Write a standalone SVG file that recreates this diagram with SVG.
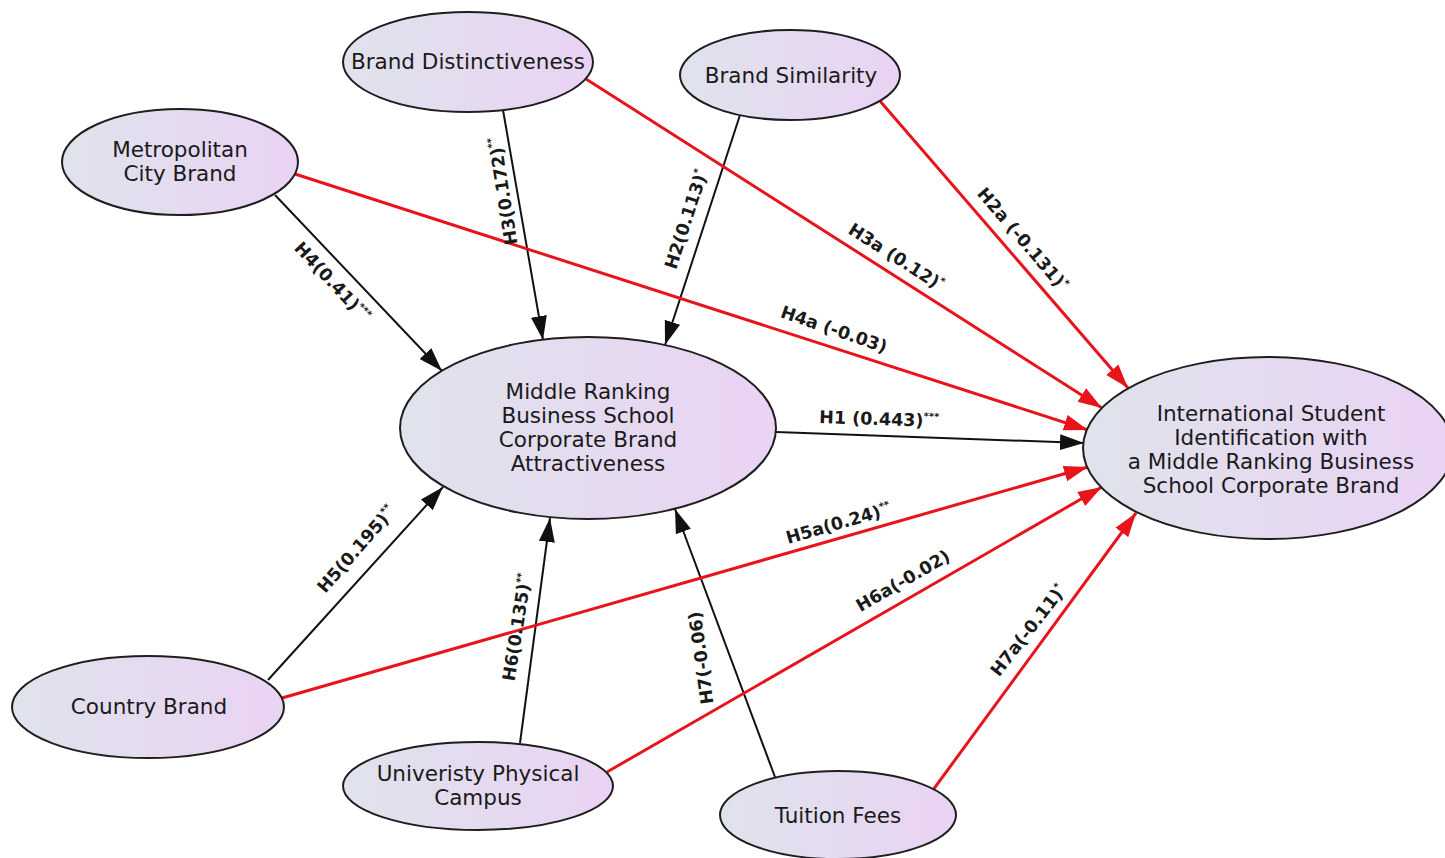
<svg xmlns="http://www.w3.org/2000/svg" width="1445" height="858" viewBox="0 0 1445 858">
<style>
.n{stroke:#1e1e1e;stroke-width:2;fill:url(#g)}
.t{font-family:"DejaVu Sans","Liberation Sans",sans-serif;font-size:21.5px;fill:#1a1a1a;text-anchor:middle}
.k{stroke:#111;stroke-width:2;fill:none;marker-end:url(#ak)}
.r{stroke:#e8141b;stroke-width:3;fill:none;marker-end:url(#ar)}
.l{font-family:"DejaVu Sans","Liberation Sans",sans-serif;font-size:17.5px;font-weight:bold;fill:#1a1a1a;text-anchor:middle}
.s{font-size:10px}
</style>
<defs>
<linearGradient id="g" x1="0" y1="0" x2="1" y2="0">
<stop offset="0" stop-color="#dfe3ec"/>
<stop offset="1" stop-color="#ead3f3"/>
</linearGradient>
<marker id="ak" markerUnits="userSpaceOnUse" markerWidth="26" markerHeight="18" refX="24" refY="9" orient="auto" viewBox="0 0 26 18"><path d="M0,1 L24,9 L0,17 z" fill="#111"/></marker>
<marker id="ar" markerUnits="userSpaceOnUse" markerWidth="26" markerHeight="18" refX="24" refY="9" orient="auto" viewBox="0 0 26 18"><path d="M0,1 L24,9 L0,17 z" fill="#e8141b"/></marker>
</defs>
<rect width="1445" height="858" fill="#fff"/>
<g id="connectors">
<line class="k" x1="275" y1="195" x2="442" y2="371"/>
<line class="k" x1="503" y1="110" x2="543" y2="340"/>
<line class="k" x1="740" y1="115" x2="665" y2="345"/>
<line class="k" x1="776" y1="432" x2="1084" y2="443"/>
<line class="k" x1="268" y1="680" x2="443" y2="487"/>
<line class="k" x1="520" y1="743" x2="550" y2="518"/>
<line class="k" x1="775" y1="777" x2="675" y2="509"/>
<line class="r" x1="586" y1="79" x2="1102" y2="408"/>
<line class="r" x1="880" y1="101" x2="1128" y2="388"/>
<line class="r" x1="295" y1="174" x2="1088" y2="430"/>
<line class="r" x1="282" y1="698" x2="1088" y2="467"/>
<line class="r" x1="607" y1="772" x2="1102" y2="487"/>
<line class="r" x1="933" y1="790" x2="1136" y2="513"/>
<text class="l" transform="translate(328,286) rotate(47)">H4(0.41)<tspan class="s" dy="-7">***</tspan></text>
<text class="l" transform="translate(509,190) rotate(-99)">H3(0.172)<tspan class="s" dy="-7">**</tspan></text>
<text class="l" transform="translate(692,221) rotate(-72)">H2(0.113)<tspan class="s" dy="-7">*</tspan></text>
<text class="l" transform="translate(879,425) rotate(2)">H1 (0.443)<tspan class="s" dy="-7">***</tspan></text>
<text class="l" transform="translate(361,553) rotate(-49)">H5(0.195)<tspan class="s" dy="-7">**</tspan></text>
<text class="l" transform="translate(523,628) rotate(-81)">H6(0.135)<tspan class="s" dy="-7">**</tspan></text>
<text class="l" transform="translate(707,657) rotate(-98)">H7(-0.06)</text>
<text class="l" transform="translate(893,262) rotate(32.5)">H3a (0.12)<tspan class="s" dy="-7">*</tspan></text>
<text class="l" transform="translate(1018,243) rotate(49.5)">H2a (-0.131)<tspan class="s" dy="-7">*</tspan></text>
<text class="l" transform="translate(832,335) rotate(19)">H4a (-0.03)</text>
<text class="l" transform="translate(840,529) rotate(-16)">H5a(0.24)<tspan class="s" dy="-7">**</tspan></text>
<text class="l" transform="translate(906,586) rotate(-30)">H6a(-0.02)</text>
<text class="l" transform="translate(1033,634) rotate(-52)">H7a(-0.11)<tspan class="s" dy="-7">*</tspan></text>
</g>
<g id="brand-distinctiveness">
<ellipse class="n" cx="468" cy="62" rx="125" ry="50"/>
<text class="t" x="468" y="69">Brand Distinctiveness</text>
</g>
<g id="brand-similarity">
<ellipse class="n" cx="790" cy="75" rx="110" ry="45"/>
<text class="t" x="791" y="83">Brand Similarity</text>
</g>
<g id="metropolitan-city-brand">
<ellipse class="n" cx="180" cy="162" rx="118" ry="53"/>
<text class="t" x="180" y="157">Metropolitan</text>
<text class="t" x="180" y="181">City Brand</text>
</g>
<g id="middle-ranking">
<ellipse class="n" cx="588" cy="428" rx="188" ry="91"/>
<text class="t" x="588" y="399">Middle Ranking</text>
<text class="t" x="588" y="423">Business School</text>
<text class="t" x="588" y="447">Corporate Brand</text>
<text class="t" x="588" y="471">Attractiveness</text>
</g>
<g id="international-student">
<ellipse class="n" cx="1268" cy="448" rx="185" ry="91"/>
<text class="t" x="1271" y="421">International Student</text>
<text class="t" x="1271" y="445">Identification with</text>
<text class="t" x="1271" y="469">a Middle Ranking Business</text>
<text class="t" x="1271" y="493">School Corporate Brand</text>
</g>
<g id="country-brand">
<ellipse class="n" cx="148" cy="707" rx="136" ry="51"/>
<text class="t" x="149" y="714">Country Brand</text>
</g>
<g id="university-physical-campus">
<ellipse class="n" cx="478" cy="786" rx="135" ry="44"/>
<text class="t" x="478" y="781">Univeristy Physical</text>
<text class="t" x="478" y="805">Campus</text>
</g>
<g id="tuition-fees">
<ellipse class="n" cx="838" cy="815" rx="118" ry="44"/>
<text class="t" x="838" y="823">Tuition Fees</text>
</g>
</svg>
